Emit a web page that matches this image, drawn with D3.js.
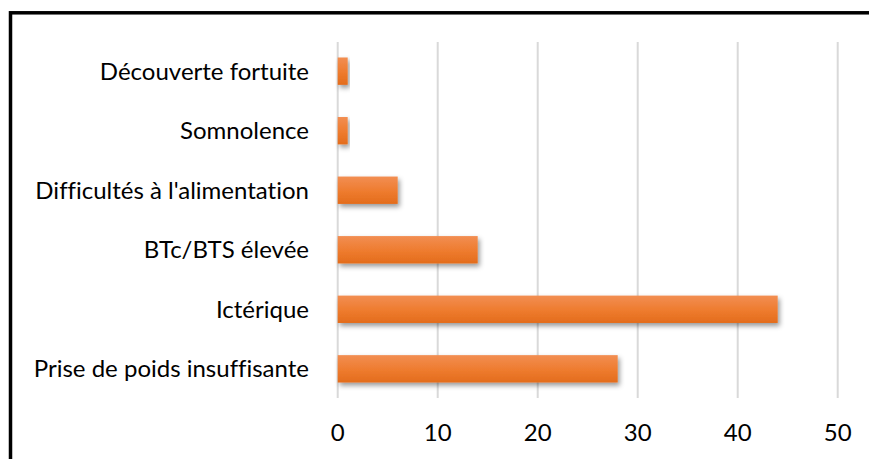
<!DOCTYPE html>
<html>
<head>
<meta charset="utf-8">
<script src="https://cdn.jsdelivr.net/npm/d3@7"></script>
<style>
  body { margin: 0; background: #fff; }
  svg { display: block; font-family: Lato, "Open Sans", sans-serif; font-variant-ligatures: none; }
</style>
</head>
<body>
<div id="chart"></div>
<script>
const categories = [
  "Découverte fortuite",
  "Somnolence",
  "Difficultés à l'alimentation",
  "BTc/BTS élevée",
  "Ictérique",
  "Prise de poids insuffisante"
];
const values = [1, 1, 6, 14, 44, 28];
const ticks = [0, 10, 20, 30, 40, 50];

const width = 869;
const height = 459;

const svg = d3
  .select("#chart")
  .append("svg")
  .attr("width", width)
  .attr("height", height);

const defs = svg.append("defs");

const grad = defs
  .append("linearGradient")
  .attr("id", "barGrad")
  .attr("x1", 0)
  .attr("y1", 0)
  .attr("x2", 0)
  .attr("y2", 1);
grad.append("stop").attr("offset", "0%").attr("stop-color", "#f28e52");
grad.append("stop").attr("offset", "55%").attr("stop-color", "#ee7b2e");
grad.append("stop").attr("offset", "100%").attr("stop-color", "#e36c1c");

defs
  .append("filter")
  .attr("id", "shadow")
  .attr("x", "-20%")
  .attr("y", "-30%")
  .attr("width", "140%")
  .attr("height", "180%")
  .append("feDropShadow")
  .attr("dx", 2)
  .attr("dy", 3)
  .attr("stdDeviation", 2.5)
  .attr("flood-color", "#000")
  .attr("flood-opacity", 0.4);

// frame (only top and left edges fall inside the picture)
svg
  .append("rect")
  .attr("x", 10.5)
  .attr("y", 12.8)
  .attr("width", 1000)
  .attr("height", 600)
  .attr("fill", "none")
  .attr("stroke", "#000")
  .attr("stroke-width", 3.5);

const x = d3.scaleLinear().domain([0, 50]).range([337.7, 837.7]);

const y = d3
  .scaleBand()
  .domain(categories)
  .range([42, 398])
  .paddingInner(0.54)
  .paddingOuter(0.26);

// grid
svg
  .append("g")
  .selectAll("line")
  .data(ticks)
  .join("line")
  .attr("x1", (d) => x(d))
  .attr("x2", (d) => x(d))
  .attr("y1", 42)
  .attr("y2", 398)
  .attr("stroke", "#d9d9d9")
  .attr("stroke-width", 2);

// bars
svg
  .append("g")
  .selectAll("rect")
  .data(values)
  .join("rect")
  .attr("x", x(0))
  .attr("y", (d, i) => y(categories[i]))
  .attr("width", (d) => x(d) - x(0))
  .attr("height", y.bandwidth())
  .attr("fill", "url(#barGrad)")
  .attr("filter", "url(#shadow)");

// category labels
svg
  .append("g")
  .attr("text-anchor", "end")
  .selectAll("text")
  .data(categories)
  .join("text")
  .attr("x", 309)
  .attr("y", (d) => y(d) + y.bandwidth() / 2)
  .attr("dy", "0.35em")
  .attr("font-size", 24)
  .attr("fill", "#000")
  .text((d) => d);

// tick labels
svg
  .append("g")
  .attr("text-anchor", "middle")
  .selectAll("text")
  .data(ticks)
  .join("text")
  .attr("x", (d) => x(d))
  .attr("y", 433)
  .attr("dy", "0.35em")
  .attr("font-size", 24)
  .attr("fill", "#000")
  .text((d) => d);
</script>
</body>
</html>
